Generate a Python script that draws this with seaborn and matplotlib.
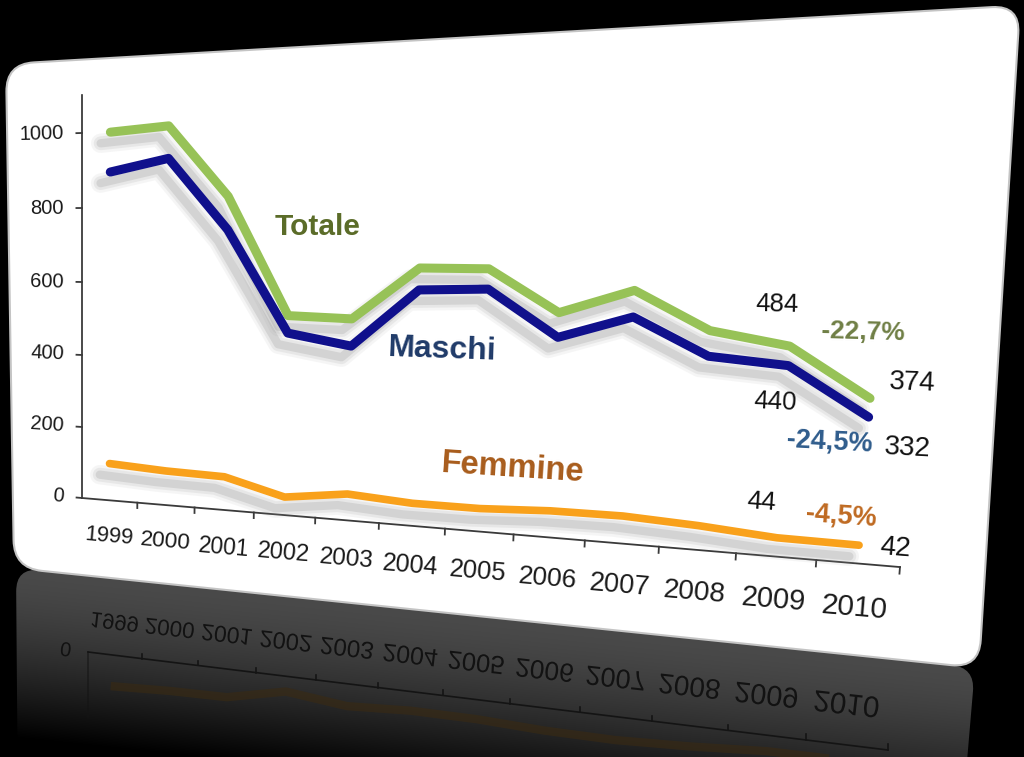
import numpy as np
import pandas as pd
import matplotlib
matplotlib.use("Agg")
import matplotlib.pyplot as plt
import seaborn as sns
from matplotlib import transforms as mtransforms
from matplotlib.path import Path
from matplotlib.patches import PathPatch
from matplotlib.lines import Line2D
from matplotlib.textpath import TextPath
from matplotlib.font_manager import FontProperties
import matplotlib.colors as mcolors
import matplotlib.patheffects as pe

# ---------------- data ----------------
years = list(range(1999, 2011))
totale = [1000, 1012, 828, 523, 519, 649, 649, 547, 603, 514, 484, 374]
maschi = [895, 928, 742, 478, 450, 595, 600, 488, 541, 455, 440, 332]
femmine = [103, 94, 90, 48, 69, 58, 58, 66, 67, 58, 44, 42]
series_names = ["Totale", "Maschi", "Femmine"]
y_ticks = [0, 200, 400, 600, 800, 1000]
x_labels = [str(y) for y in years]
pct_labels = ["-22,7%", "-24,5%", "-4,5%"]

palette = {"Totale": "#97C257", "Maschi": "#10108C", "Femmine": "#F9A11B"}
name_colors = {"Totale": "#5A6B27", "Maschi": "#1F3A68", "Femmine": "#A85C1C"}
pct_colors = ["#6F7F45", "#2F5C8C", "#BF6A22"]

plt.rcParams["font.family"] = ["Liberation Sans", "DejaVu Sans"]

W, H = 1024, 757
fig = plt.figure(figsize=(W / 100, H / 100), dpi=100, facecolor="black")


# ------------- perspective transform -------------
class Persp(mtransforms.Transform):
    input_dims = 2
    output_dims = 2
    is_separable = False

    def __init__(self, M):
        super().__init__()
        self.M = np.asarray(M, float)

    def transform_non_affine(self, values):
        vals = np.asarray(values, float)
        one = vals.ndim == 1
        vals = vals.reshape(-1, 2)
        M = self.M
        u, v = vals[:, 0], vals[:, 1]
        w = M[2, 0] * u + M[2, 1] * v + M[2, 2]
        X = (M[0, 0] * u + M[0, 1] * v + M[0, 2]) / w
        Y = (M[1, 0] * u + M[1, 1] * v + M[1, 2]) / w
        out = np.column_stack([X, H - Y])
        return out[0] if one else out


M_main = [[53.0, -0.002763, 82.0], [-3.8, -0.3695, 498.0], [-0.01685, -3.37e-5, 1.0]]
M_refl = [[51.7, 0.0, 88.0], [-4.47, 0.30, 652.0], [-0.01685, 0.0, 1.0]]
T = Persp(M_main)
Tr = Persp(M_refl)
T_data = mtransforms.Affine2D().translate(-(years[0] - 0.5), 0) + T
Tr_data = mtransforms.Affine2D().translate(-(years[0] - 0.5), 0) + Tr


def local_dir(tr, u, v, du=0.05):
    p0 = np.asarray(tr.transform((u, v)))
    p1 = np.asarray(tr.transform((u + du, v)))
    d = p1 - p0
    return np.degrees(np.arctan2(d[1], d[0])), np.hypot(d[0], d[1]) / du


def rounded_poly(pts, r):
    pts = np.asarray(pts, float)
    n = len(pts)
    verts, codes = [], []
    for i in range(n):
        p, a, b = pts[i], pts[i - 1], pts[(i + 1) % n]
        p1 = p + r * (a - p) / np.linalg.norm(a - p)
        p2 = p + r * (b - p) / np.linalg.norm(b - p)
        verts.append(p1)
        codes.append(Path.MOVETO if i == 0 else Path.LINETO)
        verts += [p, p2]
        codes += [Path.CURVE3, Path.CURVE3]
    verts.append(verts[0])
    codes.append(Path.CLOSEPOLY)
    return Path(verts, codes)


# ------------- background: panel + reflection -------------
ax_bg = fig.add_axes([0, 0, 1, 1], zorder=0)
ax_bg.set_axis_off()

refl_path = rounded_poly([(16, 567.7), (975, 667.4), (962, 820), (18, 820)], 24)
refl_patch = PathPatch(refl_path, facecolor="none", edgecolor="none")
ax_bg.add_patch(refl_patch)

yy, xx = np.mgrid[0:H, 0:W]
ytop = 618 + 0.104 * (xx - 500)
d = np.clip(yy - ytop, 0, None)
g = 0.29 * np.clip(1 - (d / 170.0) ** 1.5, 0, 1)
img = np.dstack([g, g, g])
im = ax_bg.imshow(img, extent=(0, W, H, 0), origin="upper", aspect="auto",
                  interpolation="bilinear", zorder=1)
im.set_clip_path(refl_patch)

panel_path = rounded_poly([(6, 64), (1020, 5.5), (979, 668), (14, 568)], 28)
ax_bg.add_patch(PathPatch(panel_path, facecolor="white", edgecolor="#c4c4c4",
                          lw=1.5, zorder=2))
ax_bg.set_xlim(0, W)
ax_bg.set_ylim(H, 0)

# ------------- main chart -------------
ax = fig.add_axes([0, 0, 1, 1], zorder=1)
ax.set_axis_off()

df = pd.DataFrame({
    "anno": years * 3,
    "valore": totale + maschi + femmine,
    "serie": [s for s in series_names for _ in years],
})
sns.lineplot(data=df, x="anno", y="valore", hue="serie", hue_order=series_names,
             palette=palette, ax=ax, legend=False, linewidth=6.5,
             estimator=None, sort=False)

shadow = [
    pe.SimpleLineShadow(offset=(-7, -8), shadow_color="#9a9a9a", alpha=0.09, linewidth=14),
    pe.SimpleLineShadow(offset=(-7, -8), shadow_color="#8f8f8f", alpha=0.13, linewidth=10),
    pe.SimpleLineShadow(offset=(-7, -8), shadow_color="#858585", alpha=0.20, linewidth=6),
    pe.Normal(),
]
color_to_name = {mcolors.to_hex(c): n for n, c in palette.items()}
main_lines = list(ax.lines)
for ln in main_lines:
    name = color_to_name.get(mcolors.to_hex(ln.get_color()), "")
    ln.set_transform(T_data)
    ln.set_clip_on(False)
    ln.set_solid_capstyle("round")
    ln.set_solid_joinstyle("round")
    if name == "Femmine":
        ln.set_linewidth(5.5)
        ln.set_zorder(3)
    elif name == "Maschi":
        ln.set_zorder(2.5)
    else:
        ln.set_zorder(2)
    ln.set_path_effects(shadow)

# axes lines
axis_kw = dict(color="#3a3a3a", lw=1.3, transform=T, clip_on=False, zorder=1.5)
ax.add_artist(Line2D([0, 0], [0, 1100], **axis_kw))
ax.add_artist(Line2D([0, len(years)], [0, 0], **axis_kw))
for t in y_ticks:
    ax.add_artist(Line2D([-0.1, 0], [t, t], **axis_kw))
    ang, _ = local_dir(T, -0.33, t)
    ax.text(-0.33, t, str(t), transform=T, ha="right", va="center", fontsize=14.5,
            color="#1a1a1a", rotation=ang, rotation_mode="anchor")
for k in range(1, len(years) + 1):
    ax.add_artist(Line2D([k, k], [0, -15], **axis_kw))


def xtick_size(hs):
    return 16 + 0.2 * (hs - 56.5)


for i, lab in enumerate(x_labels):
    u = i + 0.5
    ang, hs = local_dir(T, u, 0)
    ax.text(u, -102, lab, transform=T, ha="center", va="center", fontsize=xtick_size(hs),
            color="#1a1a1a", rotation=ang, rotation_mode="anchor")

# series names
name_pos = {"Totale": (3.93, 749, 21.5), "Maschi": (5.87, 448, 23), "Femmine": (6.95, 165, 23.5)}
for n in series_names:
    u, v, fs = name_pos[n]
    ang, _ = local_dir(T, u, v)
    ax.text(u, v, n, transform=T, ha="center", va="center", fontsize=fs,
            fontweight="bold", color=name_colors[n], rotation=ang, rotation_mode="anchor")

# value labels (2009, 2010) and percent changes
series_vals = [totale, maschi, femmine]
pos_2009 = [(10.31, 576, 18.5), (10.37, 356, 18.5), (10.28, 125, 19)]
pos_2010 = [(11.97, 412, 20), (11.98, 268, 20), (11.93, 42, 20)]
pos_pct = [(11.36, 520, 19), (11.06, 272, 19.5), (11.26, 105, 19.5)]
for vals, p9, p10, pp, lab, pc in zip(series_vals, pos_2009, pos_2010, pos_pct,
                                      pct_labels, pct_colors):
    for (u, v, fs), txt in ((p9, str(vals[-2])), (p10, str(vals[-1]))):
        ang, _ = local_dir(T, u, v)
        ax.text(u, v, txt, transform=T, ha="center", va="center", fontsize=fs,
                color="#111111", rotation=ang, rotation_mode="anchor")
    u, v, fs = pp
    ang, _ = local_dir(T, u, v)
    ax.text(u, v, lab, transform=T, ha="center", va="center", fontsize=fs,
            fontweight="bold", color=pc, rotation=ang, rotation_mode="anchor")

# ------------- reflection content -------------
sns.lineplot(x=years, y=femmine, ax=ax, color="#3a2a12", linewidth=6, legend=False)
rl = ax.lines[-1]
rl.set_transform(Tr_data)
rl.set_alpha(0.6)
rl.set_clip_path(refl_patch)
rl.set_zorder(1.2)

rkw = dict(color="#141414", lw=1.2, transform=Tr, zorder=1.3)
for art in [Line2D([0, len(years)], [0, 0], **rkw), Line2D([0, 0], [0, 220], alpha=0.6, **rkw)]:
    art.set_clip_path(refl_patch)
    ax.add_artist(art)
for k in range(1, len(years) + 1):
    art = Line2D([k, k], [0, -15], **rkw)
    art.set_clip_path(refl_patch)
    ax.add_artist(art)

fp = FontProperties(family=["Liberation Sans", "DejaVu Sans"])


def mirrored_label(txt, u, v, size_pt, ha="center"):
    ang, _ = local_dir(Tr, u, v)
    px = size_pt * 100 / 72.0
    tp = TextPath((0, 0), txt, size=px, prop=fp)
    ext = tp.get_extents()
    cx = ext.x1 if ha == "right" else (ext.x0 + ext.x1) / 2
    cy = (ext.y0 + ext.y1) / 2
    X, Yd = Tr.transform((u, v))
    tr = (mtransforms.Affine2D().translate(-cx, -cy).scale(1, -1)
          .rotate_deg(ang).translate(X, Yd))
    patch = PathPatch(tr.transform_path(tp), facecolor="#121212", edgecolor="none",
                      transform=mtransforms.IdentityTransform(), zorder=1.4)
    patch.set_clip_path(refl_patch)
    ax.add_artist(patch)


mirrored_label(str(y_ticks[0]), -0.33, 0, 14.5, ha="right")
for i, lab in enumerate(x_labels):
    u = i + 0.5
    _, hs = local_dir(T, u, 0)
    mirrored_label(lab, u, -110, xtick_size(hs))

fig.savefig("out.png", dpi=100, facecolor="black")
